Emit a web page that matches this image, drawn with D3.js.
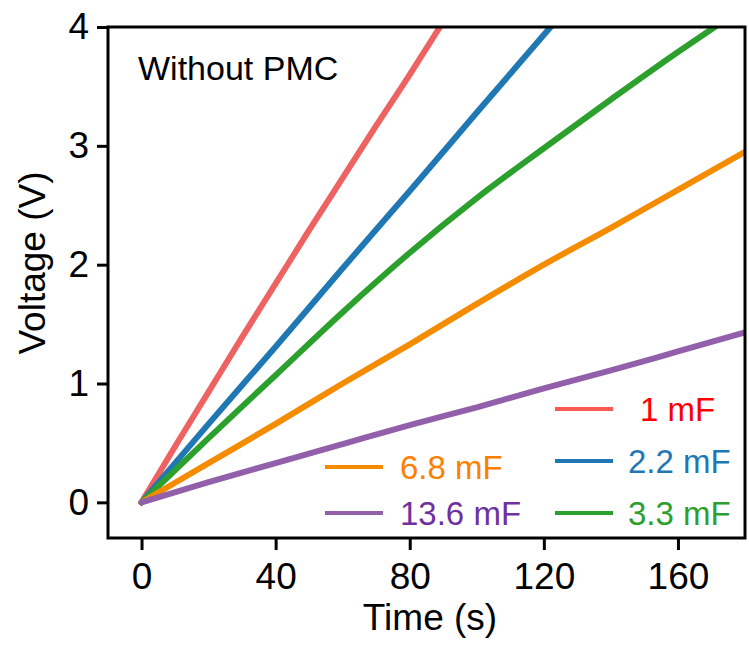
<!DOCTYPE html>
<html lang="en">
	<head>
		<meta charset="utf-8">
		<title>Voltage vs time, without PMC</title>
		<script type="text/javascript" src="https://cdn.jsdelivr.net/npm/d3@7"></script>
		<style type="text/css">
			body { margin: 0; background: #fff; }
			text { font-family: "Liberation Sans", Arial, sans-serif; }
		</style>
	</head>
	<body>
		<script type="text/javascript">

			//Width and height
			var w = 749;
			var h = 646;
			var margin = {top: 27, right: 4, bottom: 108, left: 108};

			//data
			var labels = ["1 mF", "2.2 mF", "3.3 mF", "6.8 mF", "13.6 mF"];
			var time1 = [0, 10, 20, 30, 40, 50, 60, 70, 80, 89];
			var volt1 = [0, 0.47, 0.93, 1.39, 1.84, 2.29, 2.73, 3.17, 3.6, 4.0];
			var time2 = [0, 20, 40, 60, 80, 100, 122];
			var volt2 = [0, 0.66, 1.31, 1.97, 2.62, 3.28, 4.0];
			var time3 = [0, 20, 40, 60, 80, 100, 120, 140, 160, 171];
			var volt3 = [0, 0.54, 1.07, 1.6, 2.1, 2.56, 2.98, 3.39, 3.79, 4.0];
			var time4 = [0, 20, 40, 60, 80, 100, 120, 140, 160, 180];
			var volt4 = [0, 0.33, 0.66, 1.0, 1.33, 1.67, 2.0, 2.31, 2.63, 2.95];
			var time5 = [0, 20, 40, 60, 80, 100, 120, 140, 160, 180];
			var volt5 = [0, 0.17, 0.33, 0.49, 0.65, 0.8, 0.96, 1.11, 1.27, 1.43];
			var xTicks = [0, 40, 80, 120, 160];
			var yTicks = [0, 1, 2, 3, 4];

			var lineColors = ["#ef6262", "#1f77b4", "#2ca02c", "#f58c00", "#9260aa"];
			var textColors = ["#ff0000", "#1f77b4", "#2ca02c", "#ff8000", "#7030a0"];

			var series = [
				d3.zip(time1, volt1),
				d3.zip(time2, volt2),
				d3.zip(time3, volt3),
				d3.zip(time4, volt4),
				d3.zip(time5, volt5)
			];

			var svg = d3.select("body")
						.append("svg")
						.attr("width", w)
						.attr("height", h);

			var x = d3.scaleLinear()
						.domain([-10, 180])
						.range([margin.left, w - margin.right]);
			var y = d3.scaleLinear()
						.domain([-0.3, 4])
						.range([h - margin.bottom, margin.top]);

			//clip so the lines stop at the frame
			svg.append("clipPath")
				.attr("id", "clip")
				.append("rect")
				.attr("x", margin.left)
				.attr("y", margin.top)
				.attr("width", w - margin.left - margin.right)
				.attr("height", h - margin.top - margin.bottom);

			var line = d3.line()
						.curve(d3.curveMonotoneX)
						.x(function(d){ return x(d[0]); })
						.y(function(d){ return y(d[1]); });

			svg.append("g")
				.attr("clip-path", "url(#clip)")
				.selectAll("path")
				.data(series)
				.enter()
				.append("path")
				.attr("d", line)
				.attr("fill", "none")
				.attr("stroke", function(d, i){ return lineColors[i]; })
				.attr("stroke-width", 6)
				.attr("stroke-linecap", "round");

			//axes
			var xAxis = svg.append("g")
						.attr("transform", "translate(0," + (h - margin.bottom) + ")")
						.call(d3.axisBottom(x).tickValues(xTicks).tickSize(12).tickPadding(8));
			var yAxis = svg.append("g")
						.attr("transform", "translate(" + margin.left + ",0)")
						.call(d3.axisLeft(y).tickValues(yTicks).tickFormat(d3.format("d")).tickSize(11).tickPadding(8));

			[xAxis, yAxis].forEach(function(a){
				a.select(".domain").remove();
				a.selectAll("line").attr("stroke", "#000").attr("stroke-width", 3);
				a.selectAll("text")
					.attr("fill", "#000")
					.style("font-size", "37px");
			});
			xAxis.selectAll("text").attr("dy", "0.85em");

			//frame
			svg.append("rect")
				.attr("x", margin.left)
				.attr("y", margin.top)
				.attr("width", w - margin.left - margin.right)
				.attr("height", h - margin.top - margin.bottom)
				.attr("fill", "none")
				.attr("stroke", "#000")
				.attr("stroke-width", 3);

			//axis titles
			svg.append("text")
				.attr("x", 430)
				.attr("y", 630)
				.attr("text-anchor", "middle")
				.style("font-size", "37px")
				.text("Time (s)");

			svg.append("text")
				.attr("transform", "translate(45,263) rotate(-90)")
				.attr("text-anchor", "middle")
				.style("font-size", "37px")
				.text("Voltage (V)");

			svg.append("text")
				.attr("x", 138)
				.attr("y", 80)
				.style("font-size", "34px")
				.text("Without PMC");

			//legend: two columns
			var legendPos = [
				{lx: 555, ly: 409, tx: 640},
				{lx: 555, ly: 461, tx: 628},
				{lx: 555, ly: 513, tx: 628},
				{lx: 325, ly: 467, tx: 400},
				{lx: 325, ly: 513, tx: 400}
			];

			var legend = svg.selectAll(".legend")
						.data(labels)
						.enter()
						.append("g")
						.attr("class", "legend");

			legend.append("line")
				.attr("x1", function(d, i){ return legendPos[i].lx; })
				.attr("x2", function(d, i){ return legendPos[i].lx + 58; })
				.attr("y1", function(d, i){ return legendPos[i].ly; })
				.attr("y2", function(d, i){ return legendPos[i].ly; })
				.attr("stroke", function(d, i){ return i == 0 ? "#ff5a50" : lineColors[i]; })
				.attr("stroke-width", 4);

			legend.append("text")
				.attr("x", function(d, i){ return legendPos[i].tx; })
				.attr("y", function(d, i){ return legendPos[i].ly + 12; })
				.attr("fill", function(d, i){ return textColors[i]; })
				.style("font-size", "33px")
				.text(function(d){ return d; });

		</script>
	</body>
</html>
